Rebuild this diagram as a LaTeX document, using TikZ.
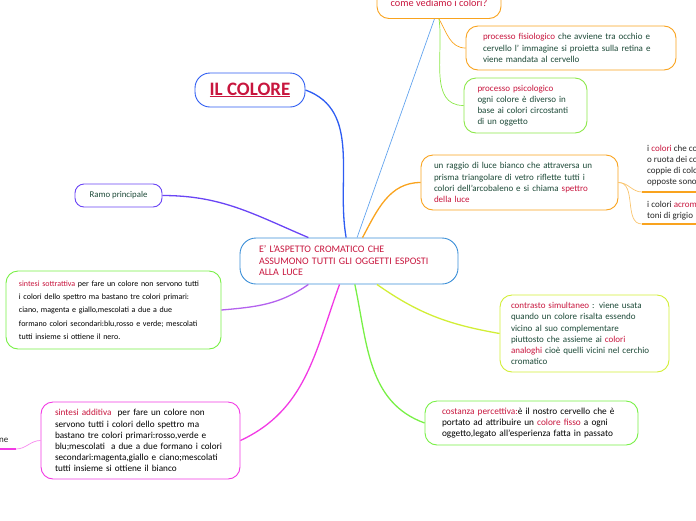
\documentclass[tikz,border=0pt]{standalone}
\usepackage{fontspec}
\setmainfont{Carlito}
\usepackage{tikz}
\usepackage{xcolor}
\definecolor{rosso}{HTML}{C8163E}
\definecolor{scuro}{HTML}{1D4A38}
\definecolor{arancio}{HTML}{F9A31E}
\definecolor{arancino}{HTML}{F9C46E}
\definecolor{verdino}{HTML}{8CE84A}
\definecolor{verde}{HTML}{78F046}
\definecolor{blu}{HTML}{2D5CF2}
\definecolor{azzurro}{HTML}{3B8FD8}
\definecolor{celeste}{HTML}{63A4EE}
\definecolor{viola}{HTML}{6A45F5}
\definecolor{lilla}{HTML}{B462EE}
\definecolor{fucsia}{HTML}{F23AE4}
\definecolor{giallo}{HTML}{D2EE36}
\newcommand{\evid}[1]{\textcolor{rosso}{#1}}
\hyphenpenalty=10000
\exhyphenpenalty=10000
\tikzset{
  topic/.style={draw, fill=white, rounded corners=12pt, line width=0.9pt, align=left, inner ysep=2pt, text=scuro, font=\fontsize{9}{11.1}\selectfont},
  maintopic/.style={topic, rounded corners=16pt, text=rosso, font=\fontsize{10}{11.5}\selectfont},
  leaf/.style={align=left, inner sep=0pt, anchor=west, text=black!85, font=\fontsize{9}{11}\selectfont},
  branch/.style={line width=1.3pt},
  twig/.style={line width=0.7pt}
}

\begin{document}
\begin{tikzpicture}[x=1pt,y=1pt]
\useasboundingbox (0,0) rectangle (696,-520);
\clip (0,0) rectangle (696,-520);
\node[maintopic, draw=azzurro, minimum width=218pt, minimum height=46pt, text width=180pt, inner xsep=19pt] (centro) at (349,-261) {E' L'ASPETTO CROMATICO CHE\\ASSUMONO TUTTI GLI OGGETTI ESPOSTI\\ALLA LUCE};
\node[topic, draw=blu, align=center, text=rosso, minimum width=110pt, minimum height=34pt, rounded corners=15pt, font=\fontsize{19}{22}\selectfont\bfseries] (titolo) at (250,-90) {\underline{IL COLORE}};
\node[topic, draw=viola, align=center, minimum width=87pt, minimum height=23pt, rounded corners=9pt, font=\fontsize{8.8}{10}\selectfont] (ramo) at (118.5,-195.5) {Ramo principale};
\node[topic, draw=arancio, align=center, text=rosso, minimum width=124pt, minimum height=31pt, font=\fontsize{10.3}{12}\selectfont] (come) at (439,-3) {come vediamo i colori?};
\node[topic, draw=arancio, minimum width=210pt, minimum height=44pt, text width=176pt, inner xsep=17pt] (fisio) at (571,-48) {\evid{processo fisiologico} che avviene tra occhio e\\cervello l' immagine si proietta sulla retina e\\viene mandata al cervello};
\node[topic, draw=verdino, minimum width=123pt, minimum height=55pt, text width=96pt, inner xsep=13.5pt] (psico) at (525.5,-105.5) {\evid{processo psicologico}\\ogni colore è diverso in\\base ai colori circostanti\\di un oggetto};
\node[topic, draw=arancio, minimum width=197pt, minimum height=55pt, text width=171pt, inner xsep=13pt] (raggio) at (519.5,-182.5) {un raggio di luce bianco che attraversa un\\prisma triangolare di vetro riflette tutti i\\colori dell'arcobaleno e si chiama \evid{spettro}\\\evid{della luce}};
\node[leaf] (ruota) at (647,-166) {i \evid{colori} che co\\o ruota dei co\\coppie di colo\\opposte sono};
\node[leaf] (acrom) at (647,-211) {i colori \evid{acrom}\\toni di grigio};
\coordinate (u1) at (642,-192);
\coordinate (u1b) at (700,-192);
\coordinate (u2) at (642,-224);
\coordinate (u2b) at (700,-224);
\node[topic, draw=verde, text=black, minimum width=215pt, minimum height=78pt, text width=189pt, inner xsep=13pt, font=\fontsize{8}{13.3}\selectfont] (sottr) at (113.5,-310) {\evid{sintesi sottrattiva} per fare un colore non servono tutti\\i colori dello spettro ma bastano tre colori primari:\\ciano, magenta e giallo,mescolati a due a due\\formano colori secondari:blu,rosso e verde; mescolati\\tutti insieme si ottiene il nero.};
\node[topic, draw=giallo, minimum width=169pt, minimum height=77pt, text width=147pt, inner xsep=11pt] (contr) at (584.5,-333.5) {\evid{contrasto simultaneo} : viene usata\\quando un colore risalta essendo\\vicino al suo complementare\\piuttosto che assieme ai \evid{colori}\\\evid{analoghi} cioè quelli vicini nel cerchio\\cromatico};
\node[topic, draw=fucsia, text=black, minimum width=199pt, minimum height=77pt, text width=171pt, inner xsep=14pt, font=\fontsize{9.2}{11.1}\selectfont] (addit) at (140.5,-440.5) {\evid{sintesi additiva}\ \ per fare un colore non\\servono tutti i colori dello spettro ma\\bastano tre colori primari:rosso,verde e\\blu;mescolati\ \ a due a due formano i colori\\secondari:magenta,giallo e ciano;mescolati\\tutti insieme si ottiene il bianco};
\node[topic, draw=verde, text=black, minimum width=213pt, minimum height=44pt, text width=179pt, inner xsep=17pt, font=\fontsize{9.3}{11.1}\selectfont] (cost) at (531.5,-423) {\evid{costanza percettiva:}è il nostro cervello che è\\portato ad attribuire un \evid{colore fisso} a ogni\\oggetto,legato all'esperienza fatta in passato};
\node[leaf] (ne) at (-1,-440) {ne};
\coordinate (n1) at (16,-449);
\coordinate (n1b) at (-5,-449);
\draw[twig, celeste] (come.254.6) -- (centro.71);
\draw[twig, arancio] (come.south) to[out=-60, in=180] (fisio.west);
\draw[twig, verdino] (come.south) to[out=-82, in=180] (psico.west);
\draw[branch, blu] (titolo.east) to[out=-20, in=100] (centro.97.4);
\draw[branch, viola] (ramo.east) to[out=0, in=157] (centro.150.7);
\draw[branch, arancio] (centro.60.5) to[out=62, in=180] (raggio.west);
\draw[twig, arancino] (raggio.east) to[out=0, in=180] (u1);
\draw[twig, arancino] (raggio.east) to[out=0, in=180] (u2);
\draw[branch, arancio] (u1) -- (u1b);
\draw[branch, arancio] (u2) -- (u2b);
\draw[branch, lilla] (centro.210.5) to[out=-145, in=5] (sottr.east);
\draw[branch, fucsia] (centro.248.6) to[out=-110, in=25] (addit.east);
\draw[branch, verde] (centro.284.6) to[out=-78, in=160] (cost.west);
\draw[branch, giallo] (centro.320.6) to[out=-35, in=170] (contr.west);
\draw[twig, fucsia!60] (addit.west) to[out=180, in=0] (n1);
\draw[branch, fucsia] (n1) -- (n1b);
\end{tikzpicture}
\end{document}
